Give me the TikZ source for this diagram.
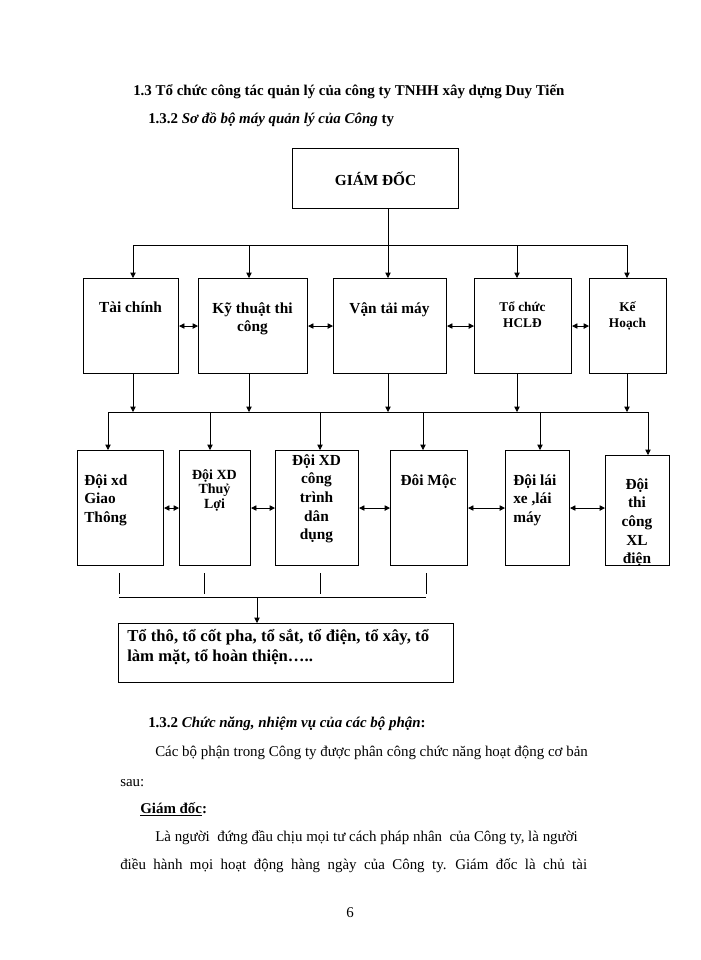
\documentclass[tikz,border=0pt]{standalone}
\usepackage{fontspec}
\setmainfont{Liberation Serif}
\usetikzlibrary{arrows.meta}
\begin{document}
\begin{tikzpicture}[x=0.75pt,y=-0.75pt,
  box/.style={draw,line width=0.8pt,inner sep=0,anchor=north west},
  t/.style={font=\bfseries\fontsize{11.5}{14}\selectfont,inner sep=0,align=center},
  ts/.style={font=\bfseries\fontsize{10}{11.5}\selectfont,inner sep=0,align=center},
  tl/.style={font=\bfseries\fontsize{11.5}{14}\selectfont,inner sep=0,align=left,anchor=north west},
  body/.style={font=\fontsize{11.2}{13}\selectfont,inner sep=0,anchor=base west},
  ar/.style={-{Triangle[length=4pt,width=4pt]},line width=0.6pt},
  da/.style={{Triangle[length=4pt,width=4pt]}-{Triangle[length=4pt,width=4pt]},line width=0.6pt},
  ln/.style={line width=0.6pt}]
\useasboundingbox[fill=white] (0,0) rectangle (700,960);
\node[body,font=\bfseries\fontsize{11.2}{13}\selectfont] (h1) at (133,95) {1.3 Tổ chức công tác quản lý của công ty TNHH xây dựng Duy Tiến};
\node[body,font=\bfseries\fontsize{11.2}{13}\selectfont] (h2) at (148,123) {1.3.2 \textit{Sơ đồ bộ máy quản lý của Công} ty};
% boss
\node[box,minimum width=166*0.75pt,minimum height=60*0.75pt] (gd) at (292,148) {};
\node[t] (gdt) at (gd.center) {GIÁM ĐỐC};
% row1
\node[box,minimum width=95*0.75pt,minimum height=95*0.75pt] (b1) at (83,278) {};
\node[box,minimum width=109*0.75pt,minimum height=95*0.75pt] (b2) at (198,278) {};
\node[box,minimum width=113*0.75pt,minimum height=95*0.75pt] (b3) at (333,278) {};
\node[box,minimum width=97*0.75pt,minimum height=95*0.75pt] (b4) at (474,278) {};
\node[box,minimum width=77*0.75pt,minimum height=95*0.75pt] (b5) at (589,278) {};
\node[t,anchor=north] (t1) at (130.5,302) {Tài chính};
\node[t,anchor=north] (t2) at (252.5,302) {Kỹ thuật thi\\công};
\node[t,anchor=north] (t3) at (389.5,302) {Vận tải máy};
\node[ts,anchor=north] (t4) at (522.5,302) {Tổ chức\\HCLĐ};
\node[ts,anchor=north] (t5) at (627.5,302) {Kế\\Hoạch};
% bus 1
\coordinate (g0) at (388,208);
\coordinate (g1) at (388,245);
\draw[ln] (133,245) -- (627,245);
\draw[ln] (gd.south -| g0) -- (g1);
\foreach \n/\x in {b1/133,b2/249,b3/388,b4/517,b5/627}{
  \draw[ar] (\x,245) -- (\n.north -| \x,0);
  \draw[ar] (\n.south -| \x,0) -- (\x,412);
}
\draw[da] (b1.east) -- (b2.west);
\draw[da] (b2.east) -- (b3.west);
\draw[da] (b3.east) -- (b4.west);
\draw[da] (b4.east) -- (b5.west);
% row2
\node[box,minimum width=86*0.75pt,minimum height=115*0.75pt] (c1) at (77,450) {};
\node[box,minimum width=71*0.75pt,minimum height=115*0.75pt] (c2) at (179,450) {};
\node[box,minimum width=83*0.75pt,minimum height=115*0.75pt] (c3) at (275,450) {};
\node[box,minimum width=77*0.75pt,minimum height=115*0.75pt] (c4) at (390,450) {};
\node[box,minimum width=64*0.75pt,minimum height=115*0.75pt] (c5) at (505,450) {};
\node[box,minimum width=64*0.75pt,minimum height=110*0.75pt] (c6) at (605,455) {};
\node[tl] (u1) at (84,474) {Đội xd\\Giao\\Thông};
\node[ts,anchor=north,font=\bfseries\fontsize{10.5}{11}\selectfont] (u2) at (214.5,469) {Đội XD\\Thuỷ\\Lợi};
\node[t,anchor=north] (u3) at (316.5,454) {Đội XD\\công\\trình\\dân\\dụng};
\node[t,anchor=north] (u4) at (428.5,474) {Đôi Mộc};
\node[tl] (u5) at (513,474) {Đội lái\\xe ,lái\\máy};
\begin{scope}
\clip (c6.north west) rectangle (c6.south east);
\node[t,anchor=north] (u6) at (637,478) {Đội\\thi\\công\\XL\\điện};
\end{scope}
\draw[ln] (108,412) -- (648,412);
\foreach \n/\x in {c1/108,c2/210,c3/320,c4/423,c5/540,c6/648}{
  \draw[ar] (\x,412) -- (\n.north -| \x,0);
}
\draw[da] (c1.east) -- (c2.west);
\draw[da] (c2.east) -- (c3.west);
\draw[da] (c3.east) -- (c4.west);
\draw[da] (c4.east) -- (c4.east -| c5.west);
\draw[da] (c5.east) -- (c5.east -| c6.west);
% bottom
\foreach \x in {119,204,320,426}{ \draw[ln] (\x,573) -- (\x,594); }
\draw[ln] (119,597) -- (426,597);
\node[box,minimum width=335*0.75pt,minimum height=59*0.75pt] (d) at (118,623) {};
\coordinate (m) at (257,597);
\draw[ar] (m) -- (d.north -| m);
\node[tl,font=\bfseries\fontsize{12.5}{15}\selectfont] (dt) at (127,629) {Tổ thô, tổ cốt pha, tổ sắt, tổ điện, tổ xây, tổ\\làm mặt, tổ hoàn thiện…..};
% text
\node[body,font=\bfseries\fontsize{11.2}{13}\selectfont] (p1) at (148,727) {1.3.2 \textit{Chức năng, nhiệm vụ của các bộ phận}:};
\node[body] (p2) at (155,756) {Các bộ phận trong Công ty được phân công chức năng hoạt động cơ bản};
\node[body] (p3) at (120,786) {sau:};
\node[body,font=\bfseries\fontsize{11.2}{13}\selectfont] (p4) at (140,813) {\underline{Giám đốc}:};
\node[body] (p5) at (155,841) {Là người \ đứng đầu chịu mọi tư cách pháp nhân \ của Công ty, là người};
\node[body] (p6) at (120,869) {điều \ hành \ mọi \ hoạt \ động \ hàng \ ngày \ của \ Công \ ty. \ Giám \ đốc \ là \ chủ \ tài};
\node[body] (p7) at (346,917) {6};
\end{tikzpicture}
\end{document}
